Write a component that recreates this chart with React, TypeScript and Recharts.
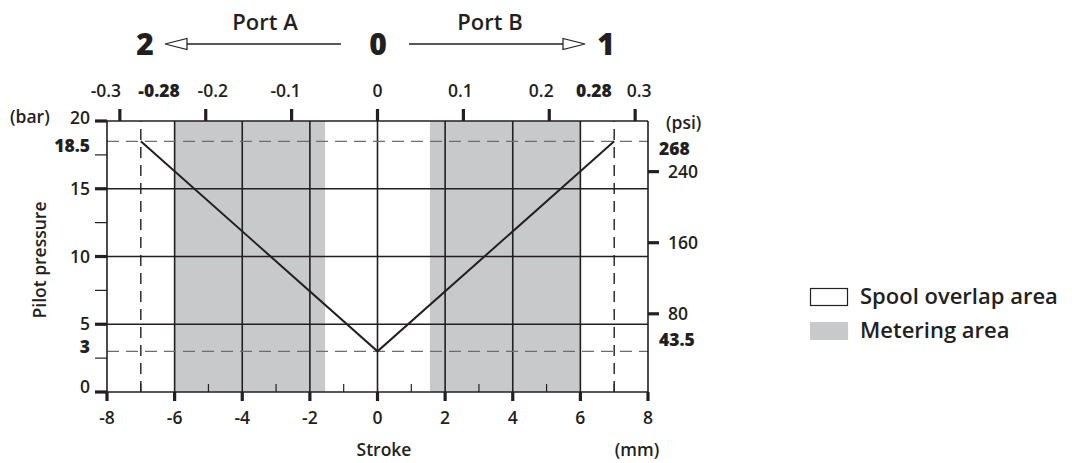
import React from 'react';
import { ComposedChart, Line, XAxis, YAxis, ReferenceLine, ReferenceArea } from 'recharts';

// ---- data ----
const strokeMm = [-7, 0, 7];
const pilotBar = [18.5, 3, 18.5];
const strokeMajorTicks = [-8, -6, -4, -2, 0, 2, 4, 6, 8];
const strokeMinorTicks = [-7, -5, -3, -1, 1, 3, 5, 7];
const strokeGrid = [-6, -4, -2, 0, 2, 4, 6];
const strokeLimits = [-7, 7];
const meteringFrom = [-6, 1.55];
const meteringTo = [-1.55, 6];
const pressureMajorTicks = [0, 5, 10, 15, 20];
const pressureMinorTicks = [2.5, 7.5, 12.5, 17.5];
const pressureMarked = [3, 18.5];
const pressureGrid = [5, 10, 15];
const psiTicks = [80, 160, 240];
const psiMarked = [43.5, 268];
const inchTicks = [-0.3, -0.2, -0.1, 0, 0.1, 0.2, 0.3];
const inchMarked = [-0.28, 0.28];
const legendItems = ['Spool overlap area', 'Metering area'];

const MM_PER_IN = 25.4;
const data = strokeMm.map((s, i) => ({ stroke: s, pressure: pilotBar[i] }));
const inchTickMm = [...inchTicks, ...inchMarked].sort((a, b) => a - b).map((v) => v * MM_PER_IN);

const FONT = "'Open Sans', sans-serif";
const INK = '#231f20';
const GRAY = '#c8c9cb';
const DASH = '#6d6d6d';
const FS = 17.5;

const inchDx: Record<string, number> = {
  '-0.3': -14, '-0.28': 22, '-0.2': 7, '-0.1': -6, '0': 0, '0.1': -3, '0.2': -8, '0.28': -24, '0.3': 4,
};

const BottomTick = (props: any) => {
  const { x, y, payload } = props;
  const v = payload.value;
  if (strokeMinorTicks.includes(v)) {
    return <line x1={x} x2={x} y1={y} y2={y - 8} stroke={INK} strokeWidth={1.2} />;
  }
  return (
    <g>
      <line x1={x} x2={x} y1={y} y2={y + 9} stroke={INK} strokeWidth={3.2} />
      <text x={x} y={y + 32} textAnchor="middle" fontFamily={FONT} fontSize={FS} fontWeight={600} fill={INK}>
        {String(v)}
      </text>
    </g>
  );
};

const TopTick = (props: any) => {
  const { x, y, payload } = props;
  const inches = Math.round((payload.value / MM_PER_IN) * 100) / 100;
  const marked = inchMarked.includes(inches);
  const label = String(inches);
  return (
    <g>
      {!marked && <line x1={x} x2={x} y1={y} y2={y - 12} stroke={INK} strokeWidth={3.2} />}
      <text x={x + (inchDx[label] ?? 0)} y={y - 24} textAnchor="middle" fontFamily={FONT} fontSize={FS}
        fontWeight={marked ? 800 : 600} fill={INK}>
        {label}
      </text>
    </g>
  );
};

const leftDy: Record<string, number> = { '20': -3, '18.5': 5, '3': -4, '0': -5 };

const LeftTick = (props: any) => {
  const { x, y, payload } = props;
  const v = payload.value;
  if (pressureMinorTicks.includes(v)) {
    return <line x1={x} x2={x - 12} y1={y} y2={y} stroke={INK} strokeWidth={1.2} />;
  }
  const marked = pressureMarked.includes(v);
  return (
    <g>
      {!marked && <line x1={x} x2={x - 12} y1={y} y2={y} stroke={INK} strokeWidth={3.2} />}
      <text x={x - 17} y={y + 6 + (leftDy[String(v)] ?? 0)} textAnchor="end" fontFamily={FONT} fontSize={FS}
        fontWeight={marked ? 800 : 600} fill={INK}>
        {String(v)}
      </text>
    </g>
  );
};

const rightDy: Record<string, number> = { '268': 2, '43.5': -6 };

const RightTick = (props: any) => {
  const { x, y, payload } = props;
  const v = payload.value;
  const marked = psiMarked.includes(v);
  return (
    <g>
      {!marked && <line x1={x} x2={x + 11} y1={y} y2={y} stroke={INK} strokeWidth={3.2} />}
      <text x={x + (marked ? 11 : 20)} y={y + 6 + (rightDy[String(v)] ?? 0)} textAnchor="start" fontFamily={FONT}
        fontSize={FS} fontWeight={marked ? 800 : 600} fill={INK}>
        {String(v)}
      </text>
    </g>
  );
};

const Arrow = ({ from, to, y }: { from: number; to: number; y: number }) => {
  const dir = to > from ? 1 : -1;
  const base = to - dir * 22;
  return (
    <g>
      <line x1={from} x2={base} y1={y} y2={y} stroke={INK} strokeWidth={1.3} />
      <polygon points={`${to},${y} ${base},${y - 5.5} ${base},${y + 5.5}`} fill="#fff" stroke={INK} strokeWidth={1.2} />
    </g>
  );
};

export default function App() {
  return (
    <div style={{ position: 'absolute', left: 0, top: 0, width: 1072, height: 463, background: '#fff' }}>
      <ComposedChart width={1072} height={463} data={data}
        margin={{ top: 120, right: 423, bottom: 70, left: 106 }}>
        <XAxis xAxisId="mm" dataKey="stroke" type="number" domain={[-8, 8]} ticks={[...strokeMajorTicks, ...strokeMinorTicks].sort((a, b) => a - b)}
          interval={0} height={1} tickSize={0} tickMargin={0} axisLine={false} tickLine={false} tick={BottomTick} allowDataOverflow />
        <XAxis xAxisId="in" dataKey="stroke" orientation="top" type="number" domain={[-8, 8]}
          ticks={inchTickMm} interval={0} height={1} tickSize={0} tickMargin={0}
          axisLine={false} tickLine={false} tick={TopTick} allowDataOverflow />
        <YAxis yAxisId="bar" type="number" domain={[0, 20]}
          ticks={[...pressureMajorTicks, ...pressureMinorTicks, ...pressureMarked].sort((a, b) => a - b)}
          interval={0} width={1} tickSize={0} tickMargin={0} axisLine={false} tickLine={false} tick={LeftTick} allowDataOverflow />
        <YAxis yAxisId="psi" orientation="right" type="number" domain={[-8, 297]}
          ticks={[...psiTicks, ...psiMarked].sort((a, b) => a - b)}
          interval={0} width={1} tickSize={0} tickMargin={0} axisLine={false} tickLine={false} tick={RightTick} allowDataOverflow />

        {meteringFrom.map((f, i) => (
          <ReferenceArea key={'m' + i} xAxisId="mm" yAxisId="bar" x1={f} x2={meteringTo[i]} y1={0} y2={20}
            fill={GRAY} fillOpacity={1} stroke="none" />
        ))}
        {strokeGrid.map((v) => (
          <ReferenceLine key={'gx' + v} xAxisId="mm" yAxisId="bar" x={v} stroke={INK} strokeWidth={1.6} />
        ))}
        {pressureGrid.map((v) => (
          <ReferenceLine key={'gy' + v} xAxisId="mm" yAxisId="bar" y={v} stroke={INK} strokeWidth={1.6} />
        ))}
        {strokeLimits.map((v) => (
          <ReferenceLine key={'lx' + v} xAxisId="mm" yAxisId="bar" x={v} stroke={INK} strokeWidth={1.4} strokeDasharray="11 7" />
        ))}
        {pressureMarked.map((v) => (
          <ReferenceLine key={'ly' + v} xAxisId="mm" yAxisId="bar" y={v} stroke={DASH} strokeWidth={1.4} strokeDasharray="12 7" />
        ))}
        <ReferenceLine xAxisId="mm" yAxisId="bar" x={-8} stroke={INK} strokeWidth={1.6} />
        <ReferenceLine xAxisId="mm" yAxisId="bar" x={8} stroke={INK} strokeWidth={1.6} />
        <ReferenceLine xAxisId="mm" yAxisId="bar" y={0} stroke={INK} strokeWidth={1.6} />
        <ReferenceLine xAxisId="mm" yAxisId="bar" y={20} stroke={INK} strokeWidth={1.6} />
        <Line xAxisId="mm" yAxisId="bar" dataKey="pressure" type="linear" stroke={INK} strokeWidth={2}
          dot={false} activeDot={false} isAnimationActive={false} />
      </ComposedChart>

      <svg width={1072} height={463} style={{ position: 'absolute', left: 0, top: 0, pointerEvents: 'none' }}>
        <text x={265} y={30} textAnchor="middle" fontFamily={FONT} fontSize={22} fontWeight={600} fill={INK}>Port A</text>
        <text x={490} y={30} textAnchor="middle" fontFamily={FONT} fontSize={22} fontWeight={600} fill={INK}>Port B</text>
        <text x={145} y={55} textAnchor="middle" fontFamily={FONT} fontSize={30} fontWeight={800} fill={INK}>2</text>
        <text x={378} y={55} textAnchor="middle" fontFamily={FONT} fontSize={30} fontWeight={800} fill={INK}>0</text>
        <text x={606} y={55} textAnchor="middle" fontFamily={FONT} fontSize={30} fontWeight={800} fill={INK}>1</text>
        <Arrow from={341} to={165} y={44} />
        <Arrow from={409} to={585} y={44} />

        <text x={10} y={123} fontFamily={FONT} fontSize={FS} fontWeight={600} fill={INK}>(bar)</text>
        <text x={666} y={129} fontFamily={FONT} fontSize={FS} fontWeight={600} fill={INK}>(psi)</text>
        <text x={0} y={0} transform="translate(46,260) rotate(-90)" textAnchor="middle" fontFamily={FONT} fontSize={FS}
          fontWeight={600} fill={INK}>Pilot pressure</text>
        <text x={384} y={456} textAnchor="middle" fontFamily={FONT} fontSize={FS} fontWeight={600} fill={INK}>Stroke</text>
        <text x={637} y={456} textAnchor="middle" fontFamily={FONT} fontSize={FS} fontWeight={600} fill={INK}>(mm)</text>

        <rect x={810.5} y={288.5} width={37} height={17} fill="#fff" stroke={INK} strokeWidth={1.2} />
        <text x={860} y={304} fontFamily={FONT} fontSize={22} fontWeight={600} fill={INK}>{legendItems[0]}</text>
        <rect x={810} y={322} width={38} height={18} fill={GRAY} />
        <text x={860} y={338} fontFamily={FONT} fontSize={22} fontWeight={600} fill={INK}>{legendItems[1]}</text>
      </svg>
    </div>
  );
}
